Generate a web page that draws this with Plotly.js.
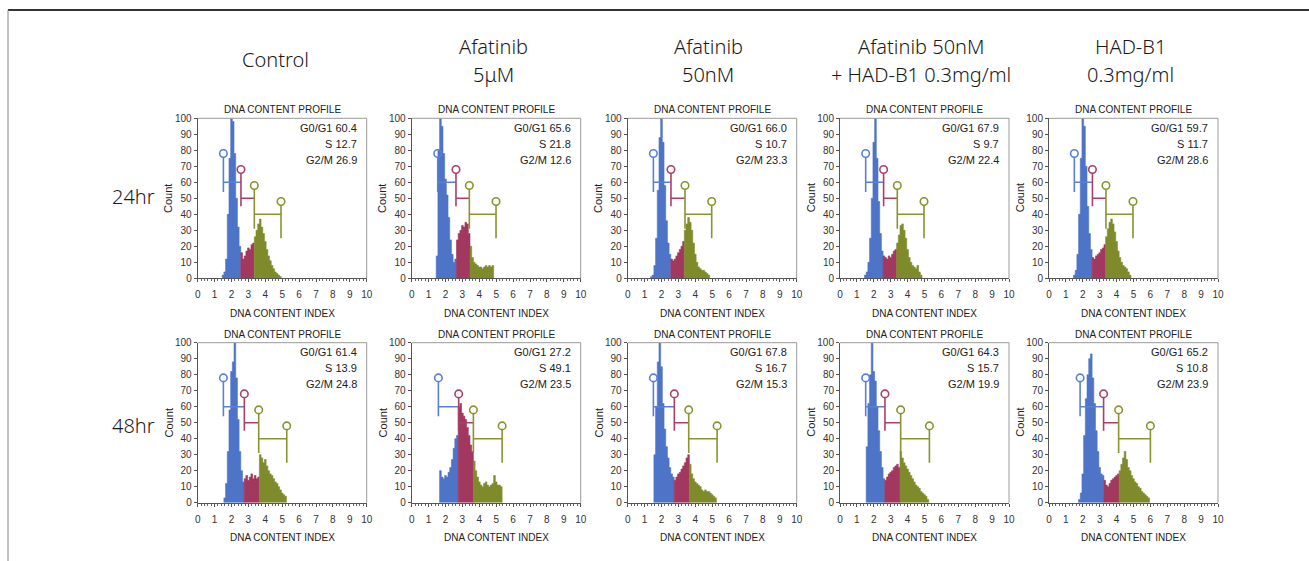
<!DOCTYPE html>
<html><head><meta charset="utf-8">
<script src="https://cdn.plot.ly/plotly-3.0.1.min.js"></script>
<style>html,body{margin:0;padding:0;background:#fff}#chart{width:1309px;height:561px}</style>
</head><body><div id="chart"></div>
<script>
// ---------------- DATA ----------------
const columnLine1 = ['Control', 'Afatinib', 'Afatinib', 'Afatinib 50nM', 'HAD-B1'];
const columnLine2 = ['', '5μM', '50nM', '+ HAD-B1 0.3mg/ml', '0.3mg/ml'];
const rowLabels = ['24hr', '48hr'];
const panelTitle = 'DNA CONTENT PROFILE';
const xTitle = 'DNA CONTENT INDEX';
const yTitle = 'Count';
const binWidth = 0.1;

// histogram counts (bin centres start at the given DNA index, step binWidth)
const start24 = [1.5, 1.5, 1.4, 1.5, 1.5];
const hist24Control = [2,4,12,40,75,100,98,78,50,32,20,16,12,14,17,19,18,21,22,26,30,34,37,32,28,23,18,14,11,8,6,4,3,2,1];
const hist24Afa5uM  = [14,80,100,95,78,62,52,38,24,15,10,12,24,28,30,33,32,35,34,28,20,13,10,9,8,7,7,6,7,8,7,8,7,8];
const hist24Afa50nM = [1,2,8,25,55,88,100,85,58,36,22,15,12,11,12,14,16,18,20,23,30,34,38,35,30,22,15,10,7,6,5,5,4,3,2];
const hist24Combo   = [2,4,10,25,50,85,100,75,48,28,17,14,13,12,14,13,15,17,18,22,27,33,34,30,25,18,13,10,8,7,6,8,4,2];
const hist24HadB1   = [2,5,15,40,75,100,95,70,45,28,18,13,12,14,15,16,18,19,21,26,31,35,37,34,29,23,17,13,10,8,7,6,4,2];

const start48 = [1.6, 1.7, 1.6, 1.6, 1.8];
const hist48Control = [3,12,32,58,82,88,100,78,52,32,20,13,15,17,14,16,18,15,17,15,16,30,28,25,27,23,20,18,17,15,13,12,10,8,6,5,4];
const hist48Afa5uM  = [20,16,15,17,16,19,22,27,34,40,42,60,62,56,54,52,47,42,36,32,26,20,16,13,11,10,12,13,11,10,11,12,17,13,11,11,10];
const hist48Afa50nM = [30,60,88,100,85,62,46,35,28,22,18,16,14,16,18,19,21,23,25,28,30,24,18,15,13,12,11,10,8,7,8,7,7,6,5,4,3];
const hist48Combo   = [35,62,80,100,82,76,60,45,32,22,15,14,16,18,19,20,22,23,24,22,32,28,25,23,21,19,17,15,13,11,10,9,7,6,5,4,2];
const hist48HadB1   = [2,6,18,42,65,80,90,93,78,62,45,32,22,18,17,14,11,10,12,14,15,16,17,18,20,24,28,32,27,22,20,17,15,13,12,10,9,7,6,5,4,3];

// gate limits: G0/G1 start, S start, G2/M start, G2/M end
const gates24Control = [1.52, 2.56, 3.35, 4.93];
const gates24Afa5uM  = [1.54, 2.62, 3.41, 4.99];
const gates24Afa50nM = [1.52, 2.56, 3.39, 4.97];
const gates24Combo   = [1.52, 2.58, 3.39, 4.97];
const gates24HadB1   = [1.50, 2.57, 3.37, 4.97];
const gates48Control = [1.52, 2.76, 3.61, 5.27];
const gates48Afa5uM  = [1.58, 2.78, 3.65, 5.35];
const gates48Afa50nM = [1.52, 2.76, 3.61, 5.29];
const gates48Combo   = [1.52, 2.66, 3.59, 5.29];
const gates48HadB1   = [1.84, 3.23, 4.12, 6.00];

// phase percentages
const g0g1_24 = ['60.4', '65.6', '66.0', '67.9', '59.7'];
const s_24    = ['12.7', '21.8', '10.7', '9.7', '11.7'];
const g2m_24  = ['26.9', '12.6', '23.3', '22.4', '28.6'];
const g0g1_48 = ['61.4', '27.2', '67.8', '64.3', '65.2'];
const s_48    = ['13.9', '49.1', '16.7', '15.7', '10.8'];
const g2m_48  = ['24.8', '23.5', '15.3', '19.9', '23.9'];

// marker geometry (count units)
const gateCircleY = [78, 68, 58];
const gateBarY = [60, 50, 40];
const gateLowY = [54, 45, 31];
const endCircleY = 48;
const endLowY = 25;

// ---------------- STYLE / LAYOUT ----------------
const histColors = ['#4d74c6', '#a2385f', '#7f8b2b'];
const gateColors = ['#5a80d2', '#a8406a', '#89932f'];
const narrow = '"Liberation Sans Narrow", "Arial Narrow", "Liberation Sans", Arial, sans-serif';
const W = 1309, H = 561;
const colLeftPx = [197.7, 411.7, 627.7, 840, 1049];
const plotWpx = 169;
const rowTopPx = [118.3, 342.7];
const plotHpx = 160;
const headerXPx = [275, 493, 708, 921, 1130];
const rowLabelYPx = [197, 425];

const hists = [
  [hist24Control, hist24Afa5uM, hist24Afa50nM, hist24Combo, hist24HadB1],
  [hist48Control, hist48Afa5uM, hist48Afa50nM, hist48Combo, hist48HadB1]
];
const starts = [start24, start48];
const gates = [
  [gates24Control, gates24Afa5uM, gates24Afa50nM, gates24Combo, gates24HadB1],
  [gates48Control, gates48Afa5uM, gates48Afa50nM, gates48Combo, gates48HadB1]
];
const stats = [[g0g1_24, s_24, g2m_24], [g0g1_48, s_48, g2m_48]];

const traces = [];
const layout = {
  width: W, height: H,
  margin: {l: 0, r: 0, t: 0, b: 0},
  paper_bgcolor: '#fff', plot_bgcolor: '#fff',
  showlegend: false,
  annotations: [], shapes: []
};

let n = 0;
for (let r = 0; r < 2; r++) {
  for (let c = 0; c < 5; c++) {
    n++;
    const xa = n === 1 ? 'x' : 'x' + n;
    const ya = n === 1 ? 'y' : 'y' + n;
    const g = gates[r][c];
    const vals = hists[r][c];
    const centres = vals.map((v, i) => starts[r][c] + i * binWidth);
    const phase = centres.map(x => x < g[1] ? 0 : (x < g[2] ? 1 : 2));
    // one stepped, filled area per cell-cycle phase
    for (let p = 0; p < 3; p++) {
      const hx = [], hy = [];
      let last = -1;
      centres.forEach((x, i) => {
        if (phase[i] === p) { hx.push(+(x - binWidth / 2).toFixed(3)); hy.push(vals[i]); last = i; }
      });
      if (last < 0) continue;
      hx.push(+(centres[last] + binWidth / 2).toFixed(3)); hy.push(vals[last]);
      hx.unshift(hx[0]); hy.unshift(0);
      hx.push(hx[hx.length - 1]); hy.push(0);
      traces.push({
        type: 'scatter', mode: 'lines', x: hx, y: hy, xaxis: xa, yaxis: ya,
        line: {shape: 'hv', width: 0.6, color: histColors[p]},
        fill: 'toself', fillcolor: histColors[p], hoverinfo: 'skip'
      });
    }
    // gate markers
    for (let k = 0; k < 3; k++) {
      const lx = [g[k], g[k], null, g[k], g[k + 1]];
      const ly = [gateCircleY[k] - 2.4, gateLowY[k], null, gateBarY[k], gateBarY[k]];
      const mx = [g[k]], my = [gateCircleY[k]];
      if (k === 2) {
        lx.push(null, g[3], g[3]);
        ly.push(null, endCircleY - 2.4, endLowY);
        mx.push(g[3]); my.push(endCircleY);
      }
      traces.push({type: 'scatter', mode: 'lines', x: lx, y: ly, xaxis: xa, yaxis: ya,
        line: {color: gateColors[k], width: 1.6}, hoverinfo: 'skip', cliponaxis: false});
      traces.push({type: 'scatter', mode: 'markers', x: mx, y: my, xaxis: xa, yaxis: ya,
        marker: {symbol: 'circle-open', size: 7.5, color: gateColors[k], line: {width: 1.6, color: gateColors[k]}},
        hoverinfo: 'skip', cliponaxis: false});
    }
    const x0 = colLeftPx[c] / W, x1 = (colLeftPx[c] + plotWpx) / W;
    const y1 = 1 - rowTopPx[r] / H, y0 = 1 - (rowTopPx[r] + plotHpx) / H;
    const axFont = {family: narrow, size: 10, color: '#333'};
    layout['xaxis' + (n === 1 ? '' : n)] = {
      domain: [x0, x1], anchor: ya, range: [0, 10], tickmode: 'linear', tick0: 0, dtick: 1,
      ticks: 'outside', ticklen: 3, tickcolor: '#555', showline: true, linecolor: '#555', linewidth: 1,
      showgrid: false, zeroline: false, tickfont: axFont, ticklabelstandoff: 4, fixedrange: true,
      minor: {ticks: 'outside', tick0: 0, dtick: 0.2, ticklen: 2, tickcolor: '#666', showgrid: false}
    };
    layout['yaxis' + (n === 1 ? '' : n)] = {
      domain: [y0, y1], anchor: xa, range: [0, 100], tickmode: 'linear', tick0: 0, dtick: 10,
      ticks: 'outside', ticklen: 3, tickcolor: '#555', showline: true, linecolor: '#555', linewidth: 1,
      showgrid: false, zeroline: false, tickfont: axFont, fixedrange: true
    };
    const xd = xa + ' domain', yd = ya + ' domain';
    layout.shapes.push(
      {type: 'line', xref: xd, yref: yd, x0: 0, x1: 1, y0: 1, y1: 1, line: {color: '#9a9a9a', width: 1}},
      {type: 'line', xref: xd, yref: yd, x0: 1, x1: 1, y0: 0, y1: 1, line: {color: '#9a9a9a', width: 1}}
    );
    const txt = {family: narrow, size: 10, color: '#222'};
    const st = {family: narrow, size: 11, color: '#222'};
    layout.annotations.push(
      {text: panelTitle, xref: xd, yref: yd, x: 0.5, y: 1, yanchor: 'bottom', yshift: 1, showarrow: false, font: txt},
      {text: xTitle, xref: xd, yref: yd, x: 0.5, y: 0, yanchor: 'middle', yshift: -35, showarrow: false, font: txt},
      {text: yTitle, xref: xd, yref: yd, x: 0, y: 0.5, xanchor: 'center', xshift: -29, textangle: -90, showarrow: false, font: st},
      {text: 'G0/G1 ' + stats[r][0][c], xref: xd, yref: yd, x: 1, xshift: -8, y: 0.94, xanchor: 'right', yanchor: 'middle', showarrow: false, font: st},
      {text: 'S ' + stats[r][1][c], xref: xd, yref: yd, x: 1, xshift: -8, y: 0.84, xanchor: 'right', yanchor: 'middle', showarrow: false, font: st},
      {text: 'G2/M ' + stats[r][2][c], xref: xd, yref: yd, x: 1, xshift: -8, y: 0.74, xanchor: 'right', yanchor: 'middle', showarrow: false, font: st}
    );
  }
}

const headFont = {family: '"Noto Sans", "Noto Sans CJK KR", sans-serif', size: 20, color: '#1a1a1a', weight: 300};
for (let i = 0; i < 5; i++) {
  if (columnLine2[i] === '') {
    layout.annotations.push({text: columnLine1[i], xref: 'paper', yref: 'paper', x: headerXPx[i] / W, y: 1 - 60 / H,
      xanchor: 'center', yanchor: 'middle', showarrow: false, font: headFont});
  } else {
    layout.annotations.push({text: columnLine1[i], xref: 'paper', yref: 'paper', x: headerXPx[i] / W, y: 1 - 46 / H,
      xanchor: 'center', yanchor: 'middle', showarrow: false, font: headFont});
    layout.annotations.push({text: columnLine2[i], xref: 'paper', yref: 'paper', x: headerXPx[i] / W, y: 1 - 75 / H,
      xanchor: 'center', yanchor: 'middle', showarrow: false, font: headFont});
  }
}
rowLabels.forEach((t, i) => {
  layout.annotations.push({text: t, xref: 'paper', yref: 'paper', x: 133 / W, y: 1 - rowLabelYPx[i] / H,
    xanchor: 'center', yanchor: 'middle', showarrow: false, font: headFont});
});
layout.shapes.push(
  {type: 'line', xref: 'paper', yref: 'paper', x0: 8 / W, x1: 1, y0: 1 - 10 / H, y1: 1 - 10 / H, line: {color: '#333', width: 2}},
  {type: 'line', xref: 'paper', yref: 'paper', x0: 8 / W, x1: 8 / W, y0: 1 - 10 / H, y1: 0, line: {color: '#888', width: 1}}
);

Plotly.newPlot('chart', traces, layout, {staticPlot: true, displayModeBar: false});
</script></body></html>
